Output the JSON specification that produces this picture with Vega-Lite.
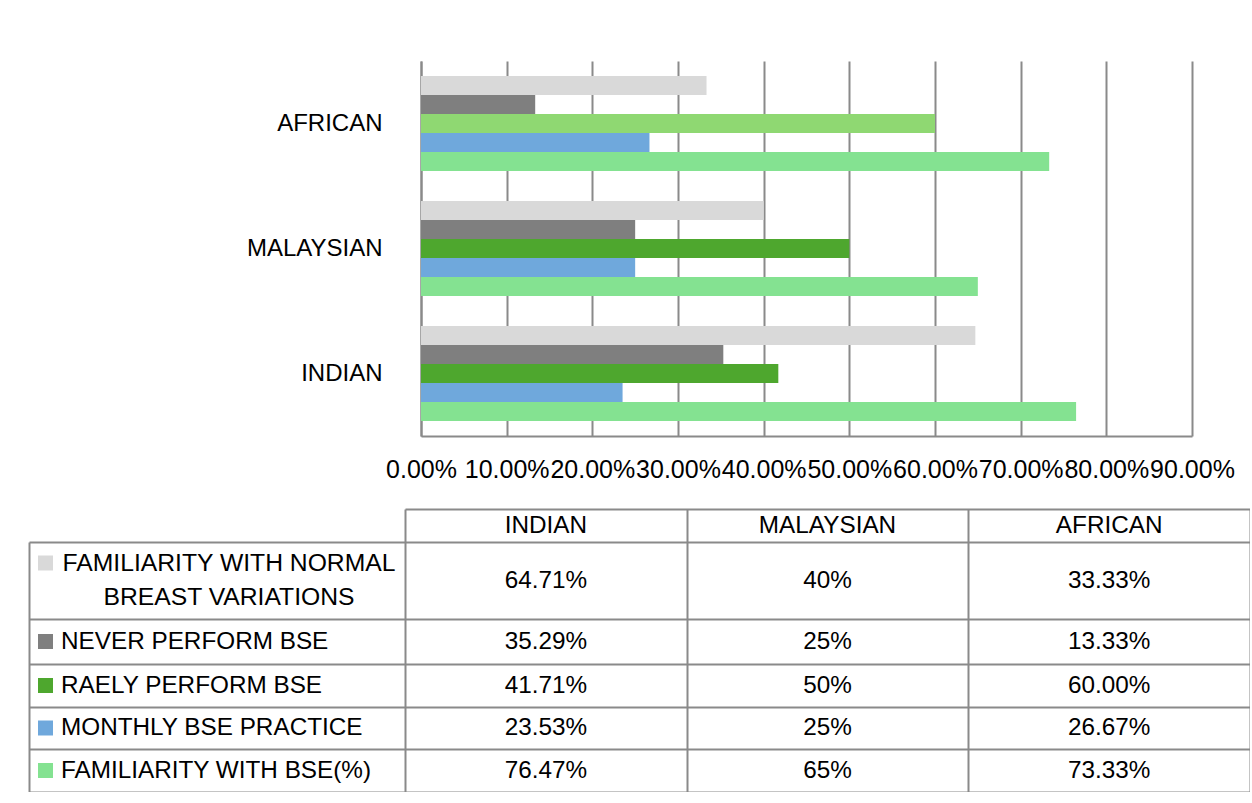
{
  "$schema": "https://vega.github.io/schema/vega-lite/v6.json",
  "padding": {"left": 29, "top": 61, "right": 0, "bottom": 0},
  "background": "white",
  "config": {"view": {"stroke": null}, "font": "Liberation Sans"},
  "datasets": {
    "survey": [
      {"group": "INDIAN", "series": "FAMILIARITY WITH NORMAL\nBREAST VARIATIONS", "order": 1, "value": 0.6471},
      {"group": "INDIAN", "series": "NEVER PERFORM BSE", "order": 2, "value": 0.3529},
      {"group": "INDIAN", "series": "RAELY PERFORM BSE", "order": 3, "value": 0.4171},
      {"group": "INDIAN", "series": "MONTHLY BSE PRACTICE", "order": 4, "value": 0.2353},
      {"group": "INDIAN", "series": "FAMILIARITY WITH BSE(%)", "order": 5, "value": 0.7647},
      {"group": "MALAYSIAN", "series": "FAMILIARITY WITH NORMAL\nBREAST VARIATIONS", "order": 1, "value": 0.40},
      {"group": "MALAYSIAN", "series": "NEVER PERFORM BSE", "order": 2, "value": 0.25},
      {"group": "MALAYSIAN", "series": "RAELY PERFORM BSE", "order": 3, "value": 0.50},
      {"group": "MALAYSIAN", "series": "MONTHLY BSE PRACTICE", "order": 4, "value": 0.25},
      {"group": "MALAYSIAN", "series": "FAMILIARITY WITH BSE(%)", "order": 5, "value": 0.65},
      {"group": "AFRICAN", "series": "FAMILIARITY WITH NORMAL\nBREAST VARIATIONS", "order": 1, "value": 0.3333},
      {"group": "AFRICAN", "series": "NEVER PERFORM BSE", "order": 2, "value": 0.1333},
      {"group": "AFRICAN", "series": "RAELY PERFORM BSE", "order": 3, "value": 0.60},
      {"group": "AFRICAN", "series": "MONTHLY BSE PRACTICE", "order": 4, "value": 0.2667},
      {"group": "AFRICAN", "series": "FAMILIARITY WITH BSE(%)", "order": 5, "value": 0.7333}
    ]
  },
  "spacing": 27,
  "vconcat": [
    {
      "bounds": "flush",
      "spacing": 0,
      "hconcat": [
        {
          "width": 392,
          "height": 375,
          "data": {"values": []},
          "mark": {"type": "text"},
          "encoding": {}
        },
        {
          "width": 771,
          "height": 375,
          "data": {"name": "survey"},
          "mark": {"type": "bar"},
          "encoding": {
            "y": {
              "field": "group", "type": "nominal",
              "sort": ["AFRICAN", "MALAYSIAN", "INDIAN"],
              "scale": {"paddingInner": 0.24, "paddingOuter": 0.12},
              "axis": {"title": null, "labelFontSize": 24, "labelColor": "#000000", "labelPadding": 39, "ticks": false, "domainColor": "#8a8a8a", "domainWidth": 2}
            },
            "yOffset": {
              "field": "series", "type": "nominal",
              "sort": ["FAMILIARITY WITH NORMAL\nBREAST VARIATIONS", "NEVER PERFORM BSE", "RAELY PERFORM BSE", "MONTHLY BSE PRACTICE", "FAMILIARITY WITH BSE(%)"],
              "scale": {"paddingInner": 0, "paddingOuter": 0}
            },
            "x": {
              "field": "value", "type": "quantitative",
              "scale": {"domain": [0, 0.9], "nice": false},
              "axis": {"title": null, "values": [0, 0.1, 0.2, 0.3, 0.4, 0.5, 0.6, 0.7, 0.8, 0.9], "format": ".2%", "labelFontSize": 25, "labelColor": "#000000", "labelPadding": 21, "labelOverlap": false, "labelFlush": false, "labelBound": false, "ticks": false, "grid": true, "gridColor": "#8a8a8a", "gridWidth": 2, "domainColor": "#8a8a8a", "domainWidth": 2}
            },
            "color": {
              "condition": {"test": "datum.group === 'AFRICAN' && datum.series === 'RAELY PERFORM BSE'", "value": "#8fd872"},
              "field": "series", "type": "nominal",
              "scale": {
                "domain": ["FAMILIARITY WITH NORMAL\nBREAST VARIATIONS", "NEVER PERFORM BSE", "RAELY PERFORM BSE", "MONTHLY BSE PRACTICE", "FAMILIARITY WITH BSE(%)"],
                "range": ["#d9d9d9", "#7f7f7f", "#4ea72e", "#6fa8dc", "#84e291"]
              },
              "legend": null
            }
          }
        }
      ]
    },
    {
      "bounds": "flush",
      "spacing": 0,
      "hconcat": [
        {
          "width": 376,
          "height": 283,
          "data": {"name": "survey"},
          "transform": [{"filter": "datum.group === 'INDIAN'"}],
          "encoding": {
            "y": {
              "field": "order", "type": "quantitative",
              "scale": {"domain": [0.5, 1, 1.5, 2, 2.5, 3, 3.5, 4, 4.5, 5, 5.5], "range": [33, 71.5, 110, 132.5, 155, 176.5, 198, 219, 240, 261.5, 283], "zero": false, "nice": false},
              "axis": {"title": null, "values": [0.5, 1.5, 2.5, 3.5, 4.5, 5.5], "labels": false, "ticks": false, "grid": true, "gridColor": "#8a8a8a", "gridWidth": 2, "domain": true, "domainColor": "#8a8a8a", "domainWidth": 2}
            },
            "color": {
              "field": "series", "type": "nominal",
              "scale": {
                "domain": ["FAMILIARITY WITH NORMAL\nBREAST VARIATIONS", "NEVER PERFORM BSE", "RAELY PERFORM BSE", "MONTHLY BSE PRACTICE", "FAMILIARITY WITH BSE(%)"],
                "range": ["#d9d9d9", "#7f7f7f", "#4ea72e", "#6fa8dc", "#84e291"]
              },
              "legend": null
            }
          },
          "layer": [
            {
              "transform": [{"filter": "datum.order === 1"}],
              "mark": {"type": "square", "size": 225, "filled": true, "opacity": 1, "xOffset": -171.5, "yOffset": -17.5}
            },
            {
              "transform": [{"filter": "datum.order > 1"}],
              "mark": {"type": "square", "size": 225, "filled": true, "opacity": 1, "xOffset": -171.5}
            },
            {
              "transform": [{"filter": "datum.order === 1"}],
              "mark": {"type": "text", "align": "center", "baseline": "middle", "dx": 12, "dy": -17, "fontSize": 24.7, "lineBreak": "\n", "lineHeight": 34},
              "encoding": {"text": {"field": "series", "type": "nominal"}, "color": {"value": "#000000"}}
            },
            {
              "transform": [{"filter": "datum.order > 1"}],
              "mark": {"type": "text", "align": "left", "baseline": "middle", "dx": -156, "fontSize": 24.3},
              "encoding": {"text": {"field": "series", "type": "nominal"}, "color": {"value": "#000000"}}
            }
          ]
        },
        {
          "width": 845,
          "height": 283,
          "data": {"name": "survey"},
          "encoding": {
            "x": {
              "field": "group", "type": "nominal",
              "sort": ["INDIAN", "MALAYSIAN", "AFRICAN"],
              "scale": {"paddingInner": 0, "paddingOuter": 0},
              "axis": {"title": null, "labels": false, "ticks": false, "domain": false, "grid": true, "tickBand": "extent", "gridColor": "#8a8a8a", "gridWidth": 2}
            },
            "y": {
              "field": "order", "type": "quantitative",
              "scale": {"domain": [-0.5, 0, 0.5, 1, 1.5, 2, 2.5, 3, 3.5, 4, 4.5, 5, 5.5], "range": [0, 16.5, 33, 71.5, 110, 132.5, 155, 176.5, 198, 219, 240, 261.5, 283], "zero": false, "nice": false},
              "axis": {"title": null, "values": [-0.5, 0.5, 1.5, 2.5, 3.5, 4.5, 5.5], "labels": false, "ticks": false, "domain": false, "grid": true, "gridColor": "#8a8a8a", "gridWidth": 2}
            }
          },
          "layer": [
            {
              "transform": [{"filter": "datum.group !== 'MALAYSIAN'"}],
              "mark": {"type": "text", "fontSize": 24.3, "baseline": "middle", "color": "#000000"},
              "encoding": {"text": {"field": "value", "type": "quantitative", "format": ".2%"}}
            },
            {
              "transform": [{"filter": "datum.group === 'MALAYSIAN'"}],
              "mark": {"type": "text", "fontSize": 24.3, "baseline": "middle", "color": "#000000"},
              "encoding": {"text": {"field": "value", "type": "quantitative", "format": ".0%"}}
            },
            {
              "transform": [{"filter": "datum.order === 1"}],
              "mark": {"type": "text", "fontSize": 24.3, "baseline": "middle", "color": "#000000"},
              "encoding": {"y": {"datum": 0, "type": "quantitative"}, "text": {"field": "group", "type": "nominal"}}
            }
          ]
        }
      ]
    }
  ]
}
